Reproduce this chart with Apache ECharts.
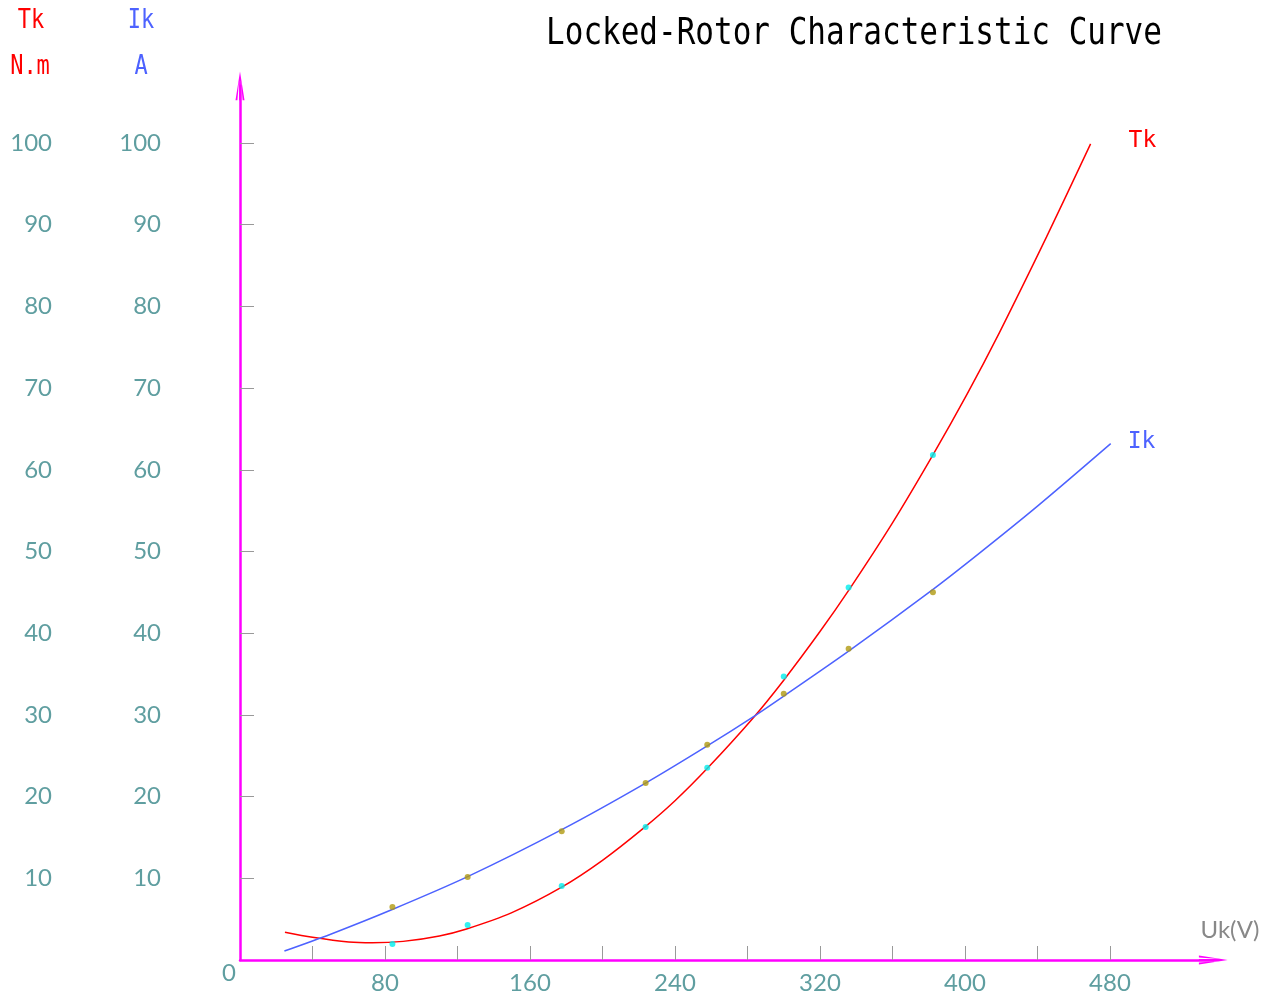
<!DOCTYPE html>
<html>
<head>
<meta charset="utf-8">
<script src="https://cdn.jsdelivr.net/npm/echarts@6/dist/echarts.min.js"></script>
<style>html,body{margin:0;padding:0;background:#fff}#c{width:1273px;height:997px}</style>
</head>
<body>
<div id="c"></div>
<script>
// Measured points (Uk in V, value)
const tkPoints = [[84.1,1.96],[125.6,4.28],[177.5,9.06],[223.8,16.28],[257.8,23.54],[300,34.7],[335.8,45.6],[382.3,61.8]];
const ikPoints = [[84.1,6.49],[125.6,10.16],[177.5,15.75],[223.8,21.66],[257.8,26.35],[300,32.6],[335.8,38.1],[382.3,45.0]];
// Fitted curves
const tkCurve = [[24.8,3.4],[40,2.78],[60,2.2],[73,2.1],[90,2.28],[110,2.95],[125,3.8],[150,5.8],[177,8.85],[200,12.2],[223,16.2],[240,19.5],[258,23.5],[283,29.6],[300,34.25],[320,40.2],[336,45.3],[360,53.5],[382,61.7],[401,69.2],[419,76.8],[445,88.5],[469.3,99.9]];
const ikCurve = [[24.5,1.1],[50,3.16],[84,6.18],[125.6,10.2],[177.5,15.95],[223.8,21.65],[257.8,26.2],[282.7,29.7],[300,32.3],[335.8,37.8],[382,45.3],[408,49.8],[440,55.55],[480.4,63.2]];
const xTickValues = [40,80,120,160,200,240,280,320,360,400,440,480];
const xLabelValues = [80,160,240,320,400,480];
const yValues = [10,20,30,40,50,60,70,80,90,100];

const MAG = '#ff00ff', TEAL = '#5f9ea0', RED = '#ff0000', BLUE = '#4d62ff';
const MONO = 'DejaVu Sans Mono';
const SANS = 'Lato';
const arrow = 'path://M5,0 L10,32 L7.9,32 L6,10 L6,32 L4,32 L4,10 L2.1,32 L0,32 Z';

const chart = echarts.init(document.getElementById('c'), null, {renderer:'canvas'});
function mono(text, x, y, size, color, sy) {
  return {type:'text', x:x, y:y, scaleY: sy || 1.15, z: 100,
    style:{text:text, font: size + 'px "' + MONO + '"', fill:color, align:'center', verticalAlign:'middle'}};
}
chart.setOption({
  animation:false,
  backgroundColor:'#fff',
  grid:{left:240, right:59.7, top:85.8, bottom:37, containLabel:false},
  xAxis:{type:'value', min:0, max:537,
    axisLine:{show:true, symbol:['none', arrow], symbolSize:[9,32], lineStyle:{color:MAG, width:2.5}},
    axisTick:{show:true, inside:true, length:14, lineStyle:{color:'#999', width:1}, customValues:xTickValues},
    axisLabel:{show:true, customValues:xLabelValues, color:TEAL, fontSize:24, fontFamily:SANS, margin:11},
    splitLine:{show:false}},
  yAxis:[
    {type:'value', min:0, max:107, position:'left',
      axisLine:{show:true, symbol:['none', arrow], symbolSize:[9,32], lineStyle:{color:MAG, width:2.5}},
      axisTick:{show:true, inside:true, length:14, lineStyle:{color:'#999', width:1}, customValues:yValues},
      axisLabel:{show:true, customValues:yValues, color:TEAL, fontSize:24, fontFamily:SANS, margin:188},
      splitLine:{show:false}},
    {type:'value', min:0, max:107, position:'left', offset:0,
      axisLine:{show:false}, axisTick:{show:false},
      axisLabel:{show:true, customValues:yValues, color:TEAL, fontSize:24, fontFamily:SANS, margin:79},
      splitLine:{show:false}}
  ],
  series:[
    {name:'Tk', type:'line', yAxisIndex:0, data:tkCurve, smooth:0.3, showSymbol:false,
      lineStyle:{color:RED, width:1.5}, z:3,
      endLabel:{show:true, formatter:'Tk', color:RED, fontFamily:MONO, fontSize:23, distance:38, offset:[0,-3]}},
    {name:'Ik', type:'line', yAxisIndex:1, data:ikCurve, smooth:0.3, showSymbol:false,
      lineStyle:{color:BLUE, width:1.5}, z:3,
      endLabel:{show:true, formatter:'Ik', color:BLUE, fontFamily:MONO, fontSize:23, distance:17, offset:[0,-2]}},
    {name:'Tk data', type:'scatter', yAxisIndex:0, data:tkPoints, symbolSize:6,
      itemStyle:{color:'#00eeee'}, z:4},
    {name:'Ik data', type:'scatter', yAxisIndex:1, data:ikPoints, symbolSize:6,
      itemStyle:{color:'#b09a10'}, z:4}
  ],
  graphic:[
    mono('Locked-Rotor Characteristic Curve', 854, 35, 31, '#000', 1.18),
    mono('Tk', 31, 21, 22, RED, 1.18),
    mono('N.m', 30, 67, 22, RED, 1.18),
    mono('Ik', 141, 21, 22, BLUE, 1.18),
    mono('A', 141, 67, 22, BLUE, 1.18),
    {type:'text', x:1230, y:930, z:100, style:{text:'Uk(V)', font:'24px "' + SANS + '"', fill:'#888', align:'center', verticalAlign:'middle'}},
    {type:'text', x:229, y:973, z:100, style:{text:'0', font:'24px "' + SANS + '"', fill:TEAL, align:'center', verticalAlign:'middle'}}
  ]
});
</script>
</body>
</html>
